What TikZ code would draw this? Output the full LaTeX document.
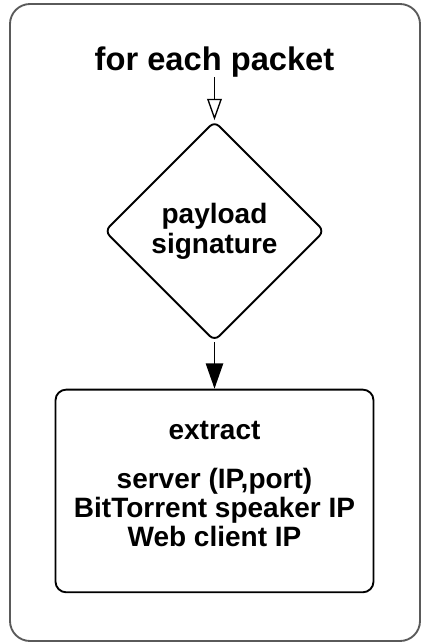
\documentclass[tikz,border=0pt]{standalone}
\usepackage{fontspec}
\setmainfont{Liberation Sans}
\usepackage{xcolor}
\usepackage{tikz}
\usetikzlibrary{shapes.geometric, arrows.meta, positioning}
\definecolor{cFrame}{RGB}{90,90,90}
\tikzset{
	frame/.style   ={draw=cFrame, line width=1.4pt, rounded corners=15pt},
	hdr/.style     ={inner sep=0pt, font=\fontsize{24.5}{29}\selectfont\bfseries},
	decide/.style  ={diamond, aspect=1, minimum width=165pt, minimum height=165pt, draw=black, line width=1.4pt, rounded corners=5pt, align=center, inner sep=0pt, font=\fontsize{21}{22.5}\selectfont\bfseries},
	xbox/.style    ={rectangle, minimum width=238.5pt, minimum height=152pt, draw=black, line width=1.4pt, rounded corners=8pt},
	xtext/.style   ={align=center, inner sep=0pt, font=\fontsize{21}{22}\selectfont\bfseries},
	openarrow/.style ={-{Triangle[open, length=16pt, width=11pt]}, line width=1pt},
	fillarrow/.style ={-{Triangle[length=19pt, width=13pt]}, line width=1.2pt},
}
\begin{document}
\begin{tikzpicture}[x=0.75pt, y=-0.75pt]
	\useasboundingbox (0,0) rectangle (421,644);
	\draw[frame] (10,4) rectangle (420,641);
	\node[hdr] (head) at (214.5,62) {for each packet};
	\node[decide, below=32pt of head] (sig) {payload\\ signature};
	\node[xbox, below=35pt of sig] (xtr) {};
	\node[xtext, yshift=5pt] (xlist) at (xtr) {extract\\[14.5pt] server (IP,port)\\ BitTorrent speaker IP\\ Web client IP};
	\draw[openarrow] (head) -- (sig);
	\draw[fillarrow] (sig) -- (xtr);
\end{tikzpicture}
\end{document}
